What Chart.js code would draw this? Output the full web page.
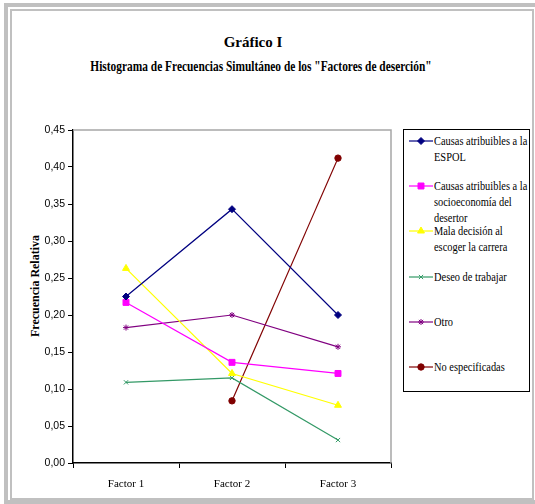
<!DOCTYPE html>
<html>
<head>
<meta charset="utf-8">
<script src="https://cdn.jsdelivr.net/npm/chart.js@4/dist/chart.umd.min.js"></script>
<style>
  body { margin: 0; width: 535px; height: 504px; overflow: hidden; background: #fff; position: relative; font-family: "Liberation Serif", serif; color: #000; }
  .band { position: absolute; left: 4px; top: 3px; width: 540px; height: 493px; border: 4px solid #c0c0c0; border-right: none; }
  .inner { position: absolute; left: 10px; top: 9px; width: 520px; height: 487px; border: 2px solid #c0c0c0; }
  #wrap { position: absolute; left: 0; top: 0; width: 400px; height: 504px; }
  .t1, .t2 { position: absolute; font-weight: bold; white-space: nowrap; line-height: 16px; }
  .t1 { left: 153px; width: 200px; text-align: center; top: 34px; font-size: 15px; }
  .t2 { left: 261px; top: 58px; font-size: 15px; transform: translateX(-50%) scaleX(0.76); }
  .ylab { position: absolute; left: 35px; top: 286px; font-weight: bold; font-size: 12px; white-space: nowrap; transform: translate(-50%, -50%) rotate(-90deg); }
  #legend { position: absolute; left: 403px; top: 129px; width: 125px; height: 261px; border: 1px solid #000; }
  .item { position: absolute; left: 0; }
  .item canvas { position: absolute; left: 4px; top: 0; }
  .item span { position: absolute; left: 30px; top: 0; width: 120px; font-size: 13px; line-height: 16px; transform: scaleX(0.8); transform-origin: 0 0; }
</style>
</head>
<body>
<div class="band"></div>
<div class="inner"></div>
<div class="t1">Gráfico I</div>
<div class="t2">Histograma de Frecuencias Simultáneo de los "Factores de deserción"</div>
<div class="ylab">Frecuencia Relativa</div>
<div id="wrap"><canvas id="chart" width="400" height="504"></canvas></div>
<div id="legend"></div>
<script>
const categories = ['Factor 1', 'Factor 2', 'Factor 3'];
const seriesNames = [
  'Causas atribuibles a la ESPOL',
  'Causas atribuibles a la socioeconomía del desertor',
  'Mala decisión al escoger la carrera',
  'Deseo de trabajar',
  'Otro',
  'No especificadas'
];
const espol = [0.225, 0.343, 0.200];
const socio = [0.217, 0.136, 0.121];
const mala = [0.263, 0.121, 0.078];
const deseo = [0.109, 0.115, 0.031];
const otro = [0.183, 0.200, 0.157];
const noEsp = [null, 0.084, 0.412];
const yMin = 0, yMax = 0.45, yStep = 0.05;

const colors = ['#000080', '#ff00ff', '#ffff00', '#339966', '#800080', '#800000'];
const markers = ['rectRot', 'rect', 'triangle', 'crossRot', 'star', 'circle'];
const radii = [3.5, 4.2, 4, 3, 3, 3.2];
const values = [espol, socio, mala, deseo, otro, noEsp];

let datasets = values.map((v, i) => ({
  label: seriesNames[i],
  data: v,
  borderColor: colors[i],
  backgroundColor: colors[i],
  pointBackgroundColor: colors[i],
  pointBorderColor: colors[i],
  pointStyle: markers[i],
  pointRadius: radii[i],
  pointBorderWidth: 1,
  borderWidth: 1.2,
  spanGaps: false
}));

// gray top and right edge of the plot area
let plotFrame = {
  id: 'plotFrame',
  beforeDatasetsDraw: (chart) => {
    let a = chart.chartArea, ctx = chart.ctx;
    ctx.save();
    ctx.strokeStyle = '#a6a6a6';
    ctx.lineWidth = 1.5;
    ctx.beginPath();
    ctx.moveTo(a.left, a.top);
    ctx.lineTo(a.right, a.top);
    ctx.lineTo(a.right, a.bottom);
    ctx.stroke();
    ctx.restore();
  }
};

let ctx = document.getElementById('chart');
let myChart = new Chart(ctx, {
  type: 'line',
  data: { labels: categories, datasets: datasets },
  plugins: [plotFrame],
  options: {
    responsive: false,
    animation: false,
    layout: { padding: { top: 130, right: 9, left: 0, bottom: 0 } },
    plugins: { legend: { display: false }, tooltip: { enabled: false } },
    scales: {
      x: {
        offset: true,
        grid: { offset: true, drawOnChartArea: false, tickLength: 5, color: '#000' },
        border: { color: '#000', width: 1.5 },
        ticks: { color: '#000', font: { family: 'Liberation Serif', size: 11 }, padding: 10 },
        afterFit: (s) => { s.height = 41; }
      },
      y: {
        min: yMin,
        max: yMax,
        grid: { drawOnChartArea: false, tickLength: 5, color: '#000' },
        border: { color: '#000', width: 1.5 },
        ticks: {
          stepSize: yStep,
          color: '#000',
          padding: 3,
          font: { family: 'Liberation Sans', size: 10.5 },
          callback: (v) => v.toFixed(2).replace('.', ',')
        },
        afterFit: (s) => { s.width = 73; }
      }
    }
  }
});

// legend built from the same series
let legend = document.getElementById('legend');
seriesNames.forEach((name, i) => {
  let item = document.createElement('div');
  item.className = 'item';
  item.style.top = (3 + i * 45.2) + 'px';
  let c = document.createElement('canvas');
  c.width = 26; c.height = 16;
  let g = c.getContext('2d');
  g.strokeStyle = colors[i];
  g.fillStyle = colors[i];
  g.lineWidth = 1.2;
  g.beginPath(); g.moveTo(1, 8); g.lineTo(25, 8); g.stroke();
  g.lineWidth = 1;
  Chart.helpers.drawPoint(g, { pointStyle: markers[i], radius: radii[i], rotation: 0, borderWidth: 1 }, 13, 8);
  let s = document.createElement('span');
  s.textContent = name;
  item.appendChild(c);
  item.appendChild(s);
  legend.appendChild(item);
});
</script>
</body>
</html>
